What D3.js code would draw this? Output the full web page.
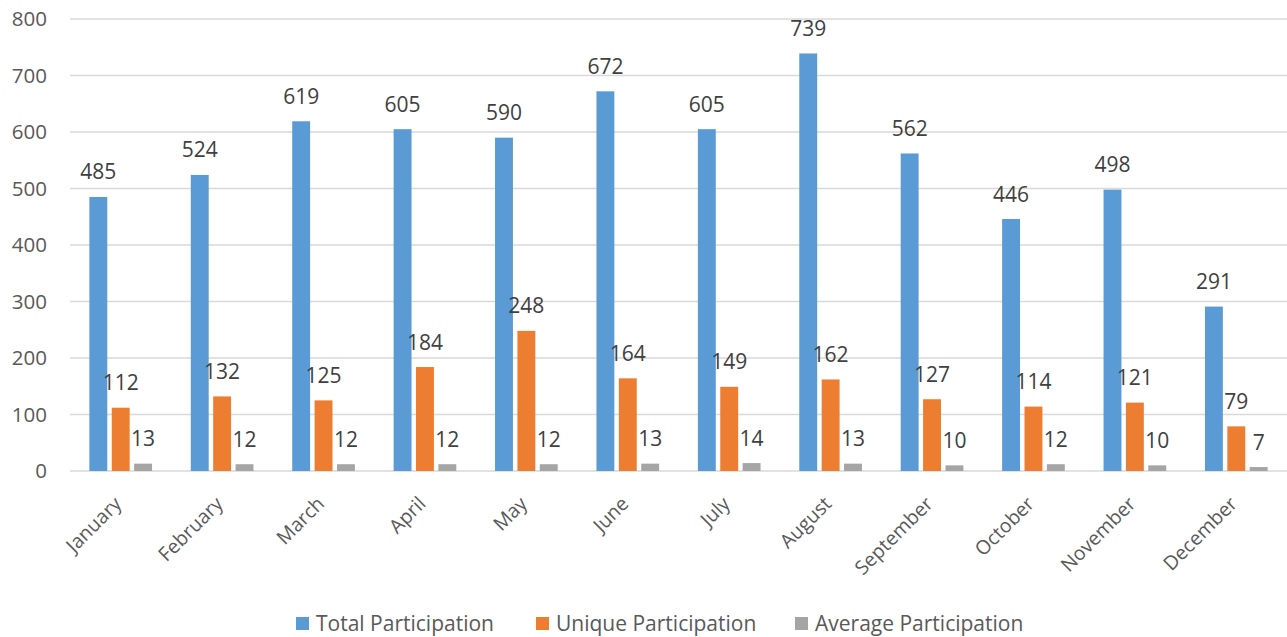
<!DOCTYPE html>
<html><head><meta charset="utf-8">
<script src="https://cdn.jsdelivr.net/npm/d3@7/dist/d3.min.js"></script>
<style>body{margin:0;background:#fff;}svg text{font-family:"Open Sans",sans-serif;}</style>
</head><body>
<svg id="c" width="1287" height="637"></svg>
<script>
const months = ["January","February","March","April","May","June","July","August","September","October","November","December"];
const totalParticipation = [485,524,619,605,590,672,605,739,562,446,498,291];
const uniqueParticipation = [112,132,125,184,248,164,149,162,127,114,121,79];
const averageParticipation = [13,12,12,12,12,13,14,13,10,12,10,7];
const seriesNames = ["Total Participation","Unique Participation","Average Participation"];
const yTicks = [0,100,200,300,400,500,600,700,800];

const colors = ["#5B9BD5","#ED7D31","#A5A5A5"];
const seriesVals = [totalParticipation, uniqueParticipation, averageParticipation];

const svg = d3.select("#c");
const mLeft = 70, mRight = 1287, mTop = 19, mBottom = 471;

const x = d3.scaleBand().domain(months).range([mLeft, mRight]).paddingInner(0.382).paddingOuter(0.191);
const xs = d3.scaleBand().domain(d3.range(3)).range([0, x.bandwidth()]).paddingInner(0.2).paddingOuter(0);
const y = d3.scaleLinear().domain([0,800]).range([mBottom, mTop]);

// gridlines
svg.append("g").selectAll("line").data(yTicks).join("line")
  .attr("x1", mLeft).attr("x2", mRight)
  .attr("y1", d=>y(d)).attr("y2", d=>y(d))
  .attr("stroke", "#D9D9D9").attr("stroke-width", 1.5);

// y axis labels
const yAxis = d3.axisLeft(y).tickValues(yTicks).tickSize(0).tickPadding(0);
const ya = svg.append("g").attr("transform", `translate(47,0)`).call(yAxis);
ya.select(".domain").remove();
ya.selectAll("text").attr("font-size", "20.5px").attr("fill", "#595959").attr("font-family","Open Sans");

// bars
const groups = svg.append("g").selectAll("g").data(months).join("g")
  .attr("transform", d=>`translate(${x(d)},0)`);
groups.each(function(m, i){
  const g = d3.select(this);
  seriesVals.forEach((vals, s) => {
    const v = vals[i];
    g.append("rect")
      .attr("x", xs(s)).attr("width", xs.bandwidth())
      .attr("y", y(v)).attr("height", y(0)-y(v))
      .attr("fill", colors[s]);
    g.append("text")
      .attr("x", xs(s)+xs.bandwidth()/2).attr("y", y(v)-17.5)
      .attr("text-anchor","middle").attr("font-size","21px").attr("fill","#404040")
      .text(v);
  });
});

// x axis labels
const xAxis = d3.axisBottom(x).tickSize(0).tickPadding(0);
const xa = svg.append("g").attr("transform", `translate(0,${mBottom})`).call(xAxis);
xa.select(".domain").remove();
xa.selectAll("text")
  .attr("font-size","19.5px").attr("fill","#595959").attr("font-family","Open Sans")
  .attr("text-anchor","end").attr("dy",null).attr("y",0)
  .attr("transform","translate(2,34) rotate(-45)");

// legend
const legX = [296, 536, 795];
const leg = svg.append("g").selectAll("g").data(seriesNames).join("g")
  .attr("transform", (d,i)=>`translate(${legX[i]},0)`);
leg.append("rect").attr("x",0).attr("y",617).attr("width",13).attr("height",13).attr("fill",(d,i)=>colors[i]);
leg.append("text").attr("x",20).attr("y",631).attr("font-size","21px").attr("fill","#595959").text(d=>d);
</script>
</body></html>
